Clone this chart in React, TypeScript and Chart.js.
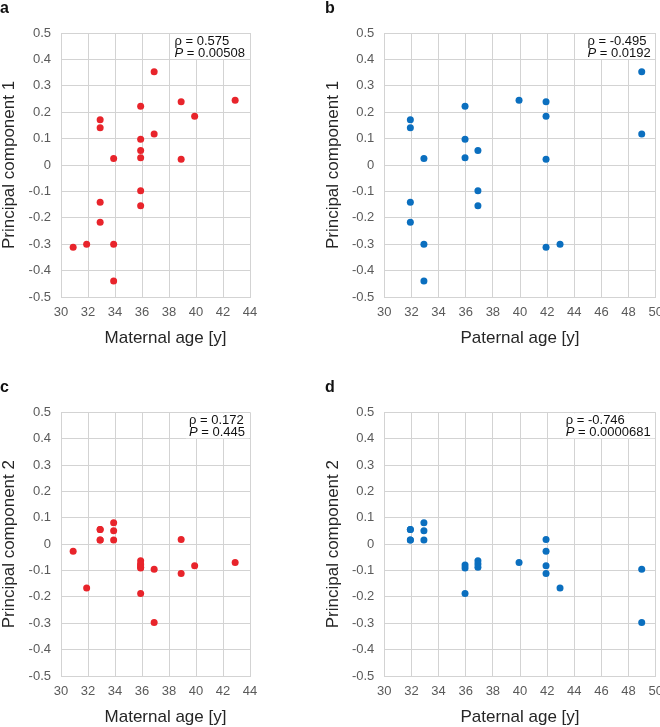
import React, { useEffect, useRef } from 'react';
import { Chart, registerables } from 'chart.js';

Chart.register(...registerables);

const FONT = '"Liberation Sans", Arial, Helvetica, sans-serif';

// ---- Data ----
const maternalAge = [30.9, 31.9, 32.9, 32.9, 32.9, 32.9, 33.9, 33.9, 33.9, 35.9, 35.9, 35.9, 35.9, 35.9, 35.9, 36.9, 36.9, 38.9, 38.9, 39.9, 42.9];
const pc1Maternal = [-0.312, -0.3, 0.171, 0.141, -0.141, -0.217, 0.025, -0.3, -0.439, 0.223, 0.098, 0.055, 0.027, -0.098, -0.154, 0.353, 0.117, 0.24, 0.022, 0.185, 0.245];

const paternalAge = [31.92, 31.92, 31.92, 31.92, 32.92, 32.92, 32.92, 35.95, 35.95, 35.95, 36.9, 36.9, 36.9, 39.93, 41.92, 41.92, 41.92, 41.92, 42.95, 48.97, 48.97];
const pc1Paternal = [0.171, 0.141, -0.141, -0.217, 0.025, -0.3, -0.439, 0.223, 0.098, 0.027, 0.055, -0.098, -0.154, 0.245, 0.24, 0.185, 0.022, -0.312, -0.3, 0.353, 0.117];

const maternalAge2 = [30.9, 31.9, 32.9, 32.9, 32.9, 32.9, 33.9, 33.9, 33.9, 35.9, 35.9, 35.9, 35.9, 35.9, 35.9, 36.9, 36.9, 38.9, 38.9, 39.9, 42.9];
const pc2Maternal = [-0.027, -0.166, 0.056, 0.056, 0.016, 0.016, 0.081, 0.051, 0.016, -0.063, -0.075, -0.088, -0.079, -0.09, -0.187, -0.095, -0.297, 0.018, -0.111, -0.082, -0.07];

const paternalAge2 = [31.92, 31.92, 31.92, 31.92, 32.92, 32.92, 32.92, 35.95, 35.95, 35.95, 36.9, 36.9, 36.9, 39.93, 41.92, 41.92, 41.92, 41.92, 42.95, 48.97, 48.97];
const pc2Paternal = [0.056, 0.056, 0.016, 0.016, 0.081, 0.051, 0.016, -0.079, -0.09, -0.187, -0.063, -0.075, -0.088, -0.07, 0.018, -0.027, -0.082, -0.111, -0.166, -0.095, -0.297];

const yTickMin = -0.5;
const yTickMax = 0.5;
const yTickStep = 0.1;
const xTickStep = 2;

const RED = '#e8242b';
const BLUE = '#0b6fbf';

type PanelCfg = {
  letter: string;
  left: number; top: number; w: number; h: number;
  plotLeft: number; plotRight: number; plotTop: number; plotBottom: number;
  xs: number[]; ys: number[]; color: string;
  xMin: number; xMax: number;
  xTitle: string; yTitle: string;
  xTitleX: number; xTitleY: number; yTitleX: number;
  rho: string; p: string;
  letterX: number; letterY: number;
};

const panels: PanelCfg[] = [
  {
    letter: 'a', left: 0, top: 0, w: 330, h: 360,
    plotLeft: 61, plotRight: 250, plotTop: 33, plotBottom: 297,
    xs: maternalAge, ys: pc1Maternal, color: RED, xMin: 30, xMax: 44,
    xTitle: 'Maternal age [y]', yTitle: 'Principal component 1',
    xTitleX: 165.5, xTitleY: 338, yTitleX: 9,
    rho: '0.575', p: '0.00508', letterX: 0, letterY: 0,
  },
  {
    letter: 'b', left: 318, top: 0, w: 342, h: 360,
    plotLeft: 66.3, plotRight: 337.7, plotTop: 33, plotBottom: 297,
    xs: paternalAge, ys: pc1Paternal, color: BLUE, xMin: 30, xMax: 50,
    xTitle: 'Paternal age [y]', yTitle: 'Principal component 1',
    xTitleX: 520, xTitleY: 338, yTitleX: 15,
    rho: '-0.495', p: '0.0192', letterX: 325, letterY: 0,
  },
  {
    letter: 'c', left: 0, top: 360, w: 330, h: 367,
    plotLeft: 61, plotRight: 250, plotTop: 52.3, plotBottom: 316,
    xs: maternalAge2, ys: pc2Maternal, color: RED, xMin: 30, xMax: 44,
    xTitle: 'Maternal age [y]', yTitle: 'Principal component 2',
    xTitleX: 165.5, xTitleY: 357.3, yTitleX: 9,
    rho: '0.172', p: '0.445', letterX: 0, letterY: 379,
  },
  {
    letter: 'd', left: 318, top: 360, w: 342, h: 367,
    plotLeft: 66.3, plotRight: 337.7, plotTop: 52.3, plotBottom: 316,
    xs: paternalAge2, ys: pc2Paternal, color: BLUE, xMin: 30, xMax: 50,
    xTitle: 'Paternal age [y]', yTitle: 'Principal component 2',
    xTitleX: 520, xTitleY: 357.3, yTitleX: 15,
    rho: '-0.746', p: '0.0000681', letterX: 325, letterY: 379,
  },
];

const textPlugin = {
  id: 'panelText',
  afterDraw(chart: any, _args: any, opts: any) {
    const { ctx, chartArea } = chart;
    ctx.save();
    ctx.font = `13px ${FONT}`;
    const line1 = `\u03C1 = ${opts.rho}`;
    ctx.font = `italic 13px ${FONT}`;
    const pW = ctx.measureText('P').width;
    ctx.font = `13px ${FONT}`;
    const rest2 = ` = ${opts.p}`;
    const w1 = ctx.measureText(line1).width;
    const w2 = pW + ctx.measureText(rest2).width;
    const w = Math.max(w1, w2);
    const x0 = chartArea.right - 5 - w;
    ctx.fillStyle = '#ffffff';
    ctx.fillRect(x0 - 3, chartArea.top + 1, chartArea.right - x0 + 2, 25);
    ctx.fillStyle = '#111111';
    ctx.textAlign = 'left';
    ctx.textBaseline = 'middle';
    ctx.fillText(line1, x0, chartArea.top + 8);
    ctx.font = `italic 13px ${FONT}`;
    ctx.fillText('P', x0, chartArea.top + 20);
    ctx.font = `13px ${FONT}`;
    ctx.fillText(rest2, x0 + pW, chartArea.top + 20);

    ctx.fillStyle = '#262626';
    ctx.font = `17px ${FONT}`;
    ctx.textAlign = 'center';
    ctx.textBaseline = 'middle';
    ctx.fillText(opts.xTitle, opts.xTitleX, opts.xTitleY);
    ctx.translate(opts.yTitleX, (chartArea.top + chartArea.bottom) / 2);
    ctx.rotate(-Math.PI / 2);
    ctx.fillText(opts.yTitle, 0, 0);
    ctx.restore();
  },
};

function Panel({ cfg }: { cfg: PanelCfg }) {
  const ref = useRef<HTMLCanvasElement>(null);
  useEffect(() => {
    if (!ref.current) return;
    const points = cfg.xs.map((x, i) => ({ x, y: cfg.ys[i] }));
    const chart = new Chart(ref.current, {
      type: 'scatter',
      data: {
        datasets: [{
          data: points,
          backgroundColor: cfg.color,
          borderWidth: 0,
          pointRadius: 3.5,
          pointHoverRadius: 3.5,
        }],
      },
      options: {
        animation: false,
        responsive: false,
        events: [],
        layout: {
          padding: { left: 0, top: cfg.plotTop, right: cfg.w - cfg.plotRight, bottom: 0 },
        },
        plugins: {
          legend: { display: false },
          tooltip: { enabled: false },
          panelText: {
            rho: cfg.rho, p: cfg.p,
            xTitle: cfg.xTitle, yTitle: cfg.yTitle,
            xTitleX: cfg.xTitleX - cfg.left, xTitleY: cfg.xTitleY,
            yTitleX: cfg.yTitleX,
          },
        } as any,
        scales: {
          x: {
            type: 'linear',
            min: cfg.xMin, max: cfg.xMax,
            afterFit: (s: any) => { s.height = cfg.h - cfg.plotBottom; s.paddingLeft = 0; s.paddingRight = 0; },
            grid: { color: '#d3d3d3', lineWidth: 1, drawTicks: false },
            border: { color: '#d3d3d3', width: 1 },
            ticks: {
              stepSize: xTickStep, padding: 8, color: '#5a5a5a',
              font: { family: FONT, size: 13 },
              maxRotation: 0, autoSkip: false,
            },
          },
          y: {
            type: 'linear',
            min: yTickMin, max: yTickMax,
            afterFit: (s: any) => { s.width = cfg.plotLeft; },
            grid: { color: '#d3d3d3', lineWidth: 1, drawTicks: false },
            border: { color: '#d3d3d3', width: 1 },
            ticks: {
              stepSize: yTickStep, padding: 10, color: '#5a5a5a',
              font: { family: FONT, size: 13 },
              autoSkip: false,
              callback: (v: any) => {
                const r = Math.round(Number(v) * 10) / 10;
                return r === 0 ? '0' : r.toFixed(1);
              },
            },
          },
        },
      },
      plugins: [textPlugin],
    });
    return () => chart.destroy();
  }, [cfg]);
  return (
    <canvas
      ref={ref}
      width={cfg.w}
      height={cfg.h}
      style={{ position: 'absolute', left: cfg.left, top: cfg.top, width: cfg.w, height: cfg.h }}
    />
  );
}

export default function App() {
  return (
    <div style={{ position: 'absolute', left: 0, top: 0, width: 660, height: 727, background: '#fff', overflow: 'hidden' }}>
      {panels.map((cfg) => <Panel key={cfg.letter} cfg={cfg} />)}
      {panels.map((cfg) => (
        <div
          key={'l' + cfg.letter}
          style={{
            position: 'absolute', left: cfg.letterX, top: cfg.letterY,
            font: `bold 16px ${FONT}`, lineHeight: '16px', color: '#111',
          }}
        >
          {cfg.letter}
        </div>
      ))}
    </div>
  );
}
